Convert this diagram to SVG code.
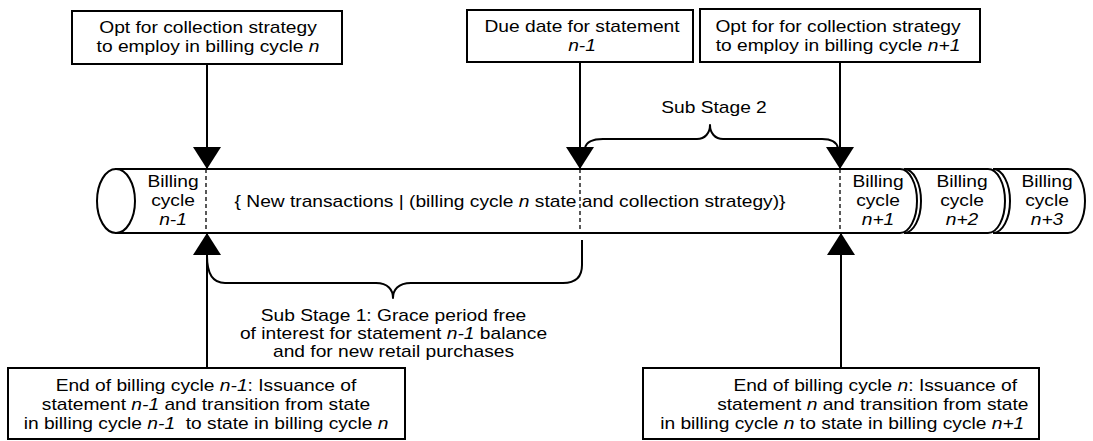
<svg xmlns="http://www.w3.org/2000/svg" width="1093" height="441" viewBox="0 0 1093 441">
<style>
.box{fill:#fff;stroke:#000;stroke-width:2}
.seg{fill:#fff;stroke:#000;stroke-width:2}
.dash{stroke:#000;stroke-width:1.3;stroke-dasharray:4,3;fill:none}
.ln{stroke:#000;stroke-width:2;fill:none}
.br{stroke:#000;stroke-width:2;fill:none;stroke-linejoin:round}
text{font-family:"Liberation Sans",Arial,sans-serif;font-size:16px;fill:#000;text-anchor:middle}
.i{font-style:italic}
</style>
<defs>
<marker id="ah" markerUnits="userSpaceOnUse" markerWidth="22" markerHeight="28" viewBox="0 0 22 28" refX="22" refY="14" orient="auto">
<path d="M0,0 L22,14 L0,28 Z" fill="#000"/>
</marker>
</defs>

<g id="cylinder">
<path class="seg" d="M116,169 H900 A17,32 0 0 1 900,233 H116 Z"/>
<ellipse class="seg" cx="116" cy="201" rx="19" ry="32"/>
<line class="dash" x1="206" y1="169" x2="206" y2="233"/>
<line class="dash" x1="580" y1="169" x2="580" y2="233"/>
<line class="dash" x1="840" y1="169" x2="840" y2="233"/>
<text transform="translate(173,187) scale(1.2,1)"><tspan x="0">Billing</tspan><tspan x="0" dy="19">cycle</tspan><tspan x="0" dy="19" class="i">n-1</tspan></text>
<text transform="translate(510,207) scale(1.2,1)">{ New transactions | (billing cycle <tspan class="i">n</tspan> state and collection strategy)}</text>
<text transform="translate(878,187) scale(1.2,1)"><tspan x="0">Billing</tspan><tspan x="0" dy="19">cycle</tspan><tspan x="0" dy="19" class="i">n+1</tspan></text>
</g>

<g id="cycle-n2">
<path class="seg" d="M904,169 H988 A17,32 0 0 1 988,233 H904 A17,32 0 0 0 904,169 Z"/>
<text transform="translate(962,187) scale(1.2,1)"><tspan x="0">Billing</tspan><tspan x="0" dy="19">cycle</tspan><tspan x="0" dy="19" class="i">n+2</tspan></text>
</g>

<g id="cycle-n3">
<path class="seg" d="M993,169 H1068 A17,32 0 0 1 1068,233 H993 A17,32 0 0 0 993,169 Z"/>
<text transform="translate(1047,187) scale(1.2,1)"><tspan x="0">Billing</tspan><tspan x="0" dy="19">cycle</tspan><tspan x="0" dy="19" class="i">n+3</tspan></text>
</g>

<g id="opt-n">
<rect class="box" x="72" y="11" width="270" height="53"/>
<text transform="translate(208,33) scale(1.2,1)"><tspan x="0">Opt for collection strategy</tspan><tspan x="0" dy="19">to employ in billing cycle <tspan class="i">n</tspan></tspan></text>
</g>

<g id="due-date">
<rect class="box" x="467" y="10" width="226" height="52"/>
<text transform="translate(582,32) scale(1.2,1)"><tspan x="0">Due date for statement</tspan><tspan x="0" dy="19" class="i">n-1</tspan></text>
</g>

<g id="opt-n1">
<rect class="box" x="700" y="9" width="280" height="53"/>
<text transform="translate(838,32) scale(1.2,1)"><tspan x="0">Opt for for collection strategy</tspan><tspan x="0" dy="19">to employ in billing cycle <tspan class="i">n+1</tspan></tspan></text>
</g>

<g id="end-n-1">
<rect class="box" x="8" y="368" width="397" height="71"/>
<text transform="translate(206,391) scale(1.2,1)"><tspan x="0">End of billing cycle <tspan class="i">n-1</tspan>: Issuance of</tspan><tspan x="0" dy="19">statement <tspan class="i">n-1</tspan> and transition from state</tspan><tspan x="0" dy="19">in billing cycle <tspan class="i">n-1</tspan>&#160; to state in billing cycle <tspan class="i">n</tspan></tspan></text>
</g>

<g id="end-n">
<rect class="box" x="643" y="368" width="396" height="71"/>
<text transform="translate(841,391) scale(1.2,1)"><tspan x="28.5">End of billing cycle <tspan class="i">n</tspan>: Issuance of</tspan><tspan x="26.5" dy="19">statement <tspan class="i">n</tspan> and transition from state</tspan><tspan x="1" dy="19">in billing cycle <tspan class="i">n</tspan> to state in billing cycle <tspan class="i">n+1</tspan></tspan></text>
</g>

<g id="sub-stage-1">
<text transform="translate(393.5,321) scale(1.2,1)"><tspan x="0">Sub Stage 1: Grace period free</tspan><tspan x="0" dy="18">of interest for statement <tspan class="i">n-1</tspan> balance</tspan><tspan x="0" dy="18">and for new retail purchases</tspan></text>
</g>

<g id="sub-stage-2">
<text transform="translate(714,113) scale(1.2,1)">Sub Stage 2</text>
</g>

<g id="connectors">
<line class="ln" x1="207" y1="64" x2="207" y2="169" marker-end="url(#ah)"/>
<line class="ln" x1="580" y1="62" x2="580" y2="169" marker-end="url(#ah)"/>
<line class="ln" x1="840" y1="62" x2="840" y2="169" marker-end="url(#ah)"/>
<line class="ln" x1="207" y1="368" x2="207" y2="233" marker-end="url(#ah)"/>
<line class="ln" x1="841" y1="368" x2="841" y2="233" marker-end="url(#ah)"/>
<path class="br" d="M207,256 Q207,283 225,283 H376 C388,283 393,290 393,298 C393,290 398,283 411,283 H563 Q582,283 582,265 V240"/>
<path class="br" d="M585,148 Q587,139 603,139 H697 C705,139 710,133 710,125 C710,133 715,139 723,139 H822 Q836,139 838,148"/>
</g>
</svg>
